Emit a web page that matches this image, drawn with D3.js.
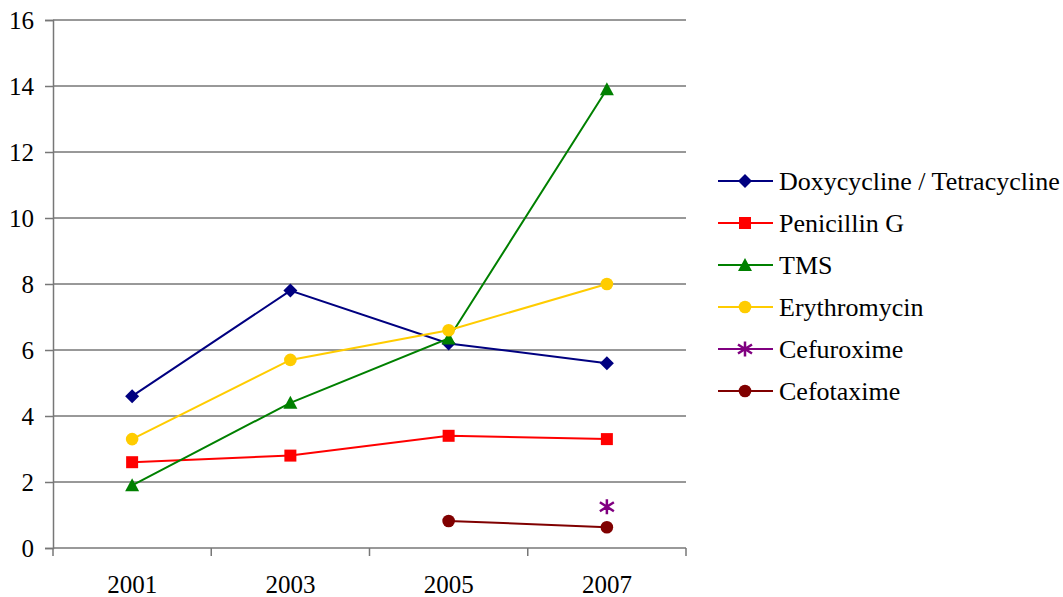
<!doctype html>
<html>
<head>
<meta charset="utf-8">
<title>Resistance chart</title>
<script src="https://d3js.org/d3.v7.min.js"></script>
<style>
  body { margin: 0; background: #fff; }
  text { font-family: "Liberation Serif", "Times New Roman", serif; }
</style>
</head>
<body>
<script>
// data
var years = ["2001", "2003", "2005", "2007"];
var yTicks = [0, 2, 4, 6, 8, 10, 12, 14, 16];
var doxy = [4.6, 7.8, 6.2, 5.6];
var penicillin = [2.6, 2.8, 3.4, 3.3];
var tms = [1.9, 4.4, 6.35, 13.9];
var erythro = [3.3, 5.7, 6.6, 8.0];
var cefuroxime = [null, null, null, 1.25];
var cefotaxime = [null, null, 0.82, 0.63];

var series = [
  {name: "Doxycycline / Tetracycline", values: doxy, color: "#000080", shape: "diamond"},
  {name: "Penicillin G", values: penicillin, color: "#ff0000", shape: "square"},
  {name: "TMS", values: tms, color: "#008000", shape: "triangle"},
  {name: "Erythromycin", values: erythro, color: "#ffcc00", shape: "circle"},
  {name: "Cefuroxime", values: cefuroxime, color: "#800080", shape: "star"},
  {name: "Cefotaxime", values: cefotaxime, color: "#800000", shape: "circle"}
];

var W = 1063, H = 597;
var plotLeft = 53, plotRight = 686, plotTop = 20, plotBottom = 548;
var fontSize = 25;

var svg = d3.select("body").append("svg")
  .attr("width", W)
  .attr("height", H);

var x = d3.scaleBand().domain(years).range([plotLeft, plotRight]);
var y = d3.scaleLinear().domain([0, 16]).range([plotBottom, plotTop]);

// gridlines
svg.append("g").selectAll("line")
  .data(yTicks.filter(function(d) { return d > 0; }))
  .enter().append("line")
  .attr("x1", plotLeft).attr("x2", plotRight)
  .attr("y1", function(d) { return y(d); })
  .attr("y2", function(d) { return y(d); })
  .attr("stroke", "#333")
  .attr("stroke-width", 1);

// y axis
var yAxis = svg.append("g")
  .attr("transform", "translate(" + plotLeft + ",0)")
  .call(d3.axisLeft(y).tickValues(yTicks).tickSize(8).tickPadding(11));
yAxis.selectAll("path, line").attr("stroke", "#777").attr("stroke-width", 1.5);
yAxis.selectAll("text").attr("font-size", fontSize).attr("fill", "#000");

// x axis
var xAxis = svg.append("g")
  .attr("transform", "translate(0," + plotBottom + ")")
  .call(d3.axisBottom(x).tickSize(0).tickPadding(27));
xAxis.select("path").attr("stroke", "#777").attr("stroke-width", 1.5)
  .attr("d", "M" + plotLeft + ",0H" + plotRight);
xAxis.selectAll("text").attr("font-size", fontSize).attr("fill", "#000");
// tick marks between categories
xAxis.selectAll(".sep")
  .data(d3.range(years.length + 1))
  .enter().append("line")
  .attr("class", "sep")
  .attr("x1", function(i) { return plotLeft + i * x.bandwidth(); })
  .attr("x2", function(i) { return plotLeft + i * x.bandwidth(); })
  .attr("y1", 0).attr("y2", 8)
  .attr("stroke", "#777").attr("stroke-width", 1.5);

function cx(i) { return x(years[i]) + x.bandwidth() / 2; }

function drawMarker(g, shape, color) {
  if (shape === "star") {
    g.append("path")
      .attr("d", "M0,-7.5V7.5M-7,-4.5L7,4.5M-7,4.5L7,-4.5")
      .attr("stroke", color).attr("stroke-width", 2.5).attr("fill", "none");
    return;
  }
  var path;
  if (shape === "diamond") {
    path = "M0,-7L7,0L0,7L-7,0Z";
  } else if (shape === "square") {
    path = "M-6,-6H6V6H-6Z";
  } else if (shape === "triangle") {
    path = "M0,-7L7,6H-7Z";
  } else {
    path = d3.symbol().type(d3.symbolCircle).size(125)();
  }
  g.append("path").attr("d", path).attr("fill", color);
}

var line = d3.line()
  .defined(function(d) { return d.v !== null; })
  .x(function(d) { return cx(d.i); })
  .y(function(d) { return y(d.v); });

series.forEach(function(s) {
  var pts = s.values.map(function(v, i) { return {i: i, v: v}; });
  svg.append("path")
    .datum(pts)
    .attr("d", line)
    .attr("fill", "none")
    .attr("stroke", s.color)
    .attr("stroke-width", 2);
  pts.filter(function(d) { return d.v !== null; }).forEach(function(d) {
    var g = svg.append("g").attr("transform", "translate(" + cx(d.i) + "," + y(d.v) + ")");
    drawMarker(g, s.shape, s.color);
  });
});

// legend
var legend = svg.append("g").attr("transform", "translate(718,181)");
series.forEach(function(s, i) {
  var row = legend.append("g").attr("transform", "translate(0," + (i * 42) + ")");
  row.append("line")
    .attr("x1", 0).attr("x2", 55)
    .attr("y1", 0).attr("y2", 0)
    .attr("stroke", s.color).attr("stroke-width", 2);
  var m = row.append("g").attr("transform", "translate(27,0)");
  drawMarker(m, s.shape, s.color);
  row.append("text")
    .attr("x", 61).attr("y", 0).attr("dy", "0.35em")
    .attr("font-size", 26)
    .attr("fill", "#000")
    .text(s.name);
});
</script>
</body>
</html>
